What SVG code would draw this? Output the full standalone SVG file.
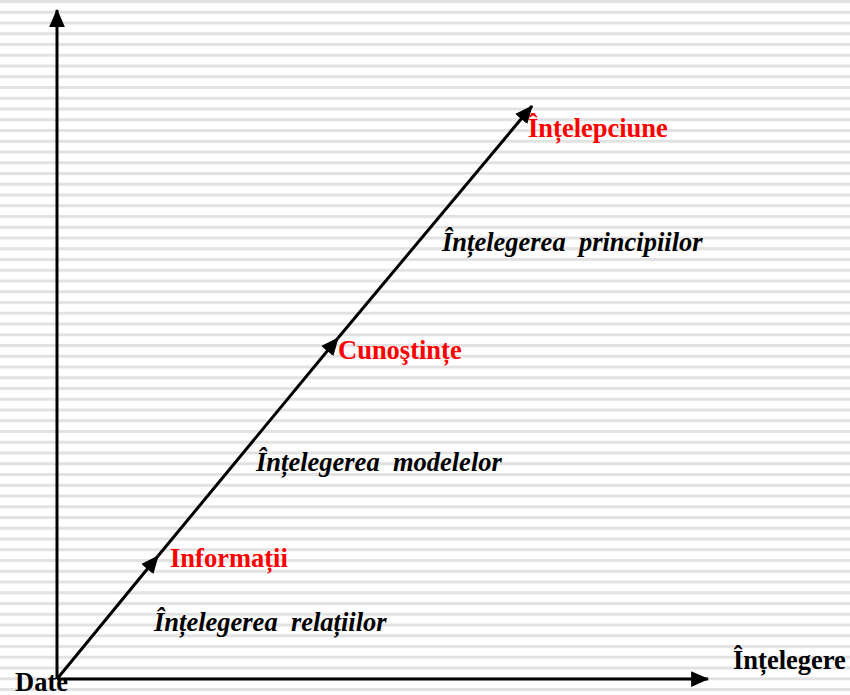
<svg xmlns="http://www.w3.org/2000/svg" width="850" height="695" viewBox="0 0 850 695">
<defs>
<pattern id="stripes" x="0" y="0" width="850" height="10.75" patternUnits="userSpaceOnUse">
<rect x="0" y="0" width="850" height="10.75" fill="#ffffff"/>
<rect x="0" y="0" width="850" height="3" fill="#e2e2e2"/>
</pattern>
<marker id="ah" markerUnits="userSpaceOnUse" markerWidth="18" markerHeight="16" refX="15" refY="7" orient="auto" viewBox="0 0 16 14">
<path d="M0,0 L16,7 L0,14 Z" fill="#000"/>
</marker>
</defs>
<style>
.ax{stroke:#000;stroke-width:3;fill:none}
.t{font-family:"Liberation Serif","Times New Roman",serif;font-weight:bold;font-size:26.5px;white-space:pre}
.red{fill:#ff0000}
.blk{fill:#000}
.it{font-style:italic}
</style>
<rect width="850" height="695" fill="url(#stripes)"/>
<g id="connectors">
<line class="ax" x1="57" y1="679" x2="57" y2="10" marker-end="url(#ah)"/>
<line class="ax" x1="57" y1="679" x2="708" y2="679" marker-end="url(#ah)"/>
<line class="ax" x1="57" y1="679" x2="158" y2="556" marker-end="url(#ah)"/>
<line class="ax" x1="158" y1="556" x2="338" y2="338" marker-end="url(#ah)"/>
<line class="ax" x1="338" y1="338" x2="532" y2="106" marker-end="url(#ah)"/>
</g>
<g id="date"><text class="t blk" x="15" y="691">Date</text></g>
<g id="intelegere"><text class="t blk" x="733" y="669">Înțelegere</text></g>
<g id="intelepciune"><text class="t red" x="528" y="137">Înțelepciune</text></g>
<g id="principii"><text class="t blk it" x="442" y="251">Înțelegerea  principiilor</text></g>
<g id="cunostinte"><text class="t red" x="338" y="359">Cunoştințe</text></g>
<g id="modele"><text class="t blk it" x="256" y="471">Înțelegerea  modelelor</text></g>
<g id="informatii"><text class="t red" x="170" y="567">Informații</text></g>
<g id="relatii"><text class="t blk it" x="154" y="631">Înțelegerea  relațiilor</text></g>
</svg>
